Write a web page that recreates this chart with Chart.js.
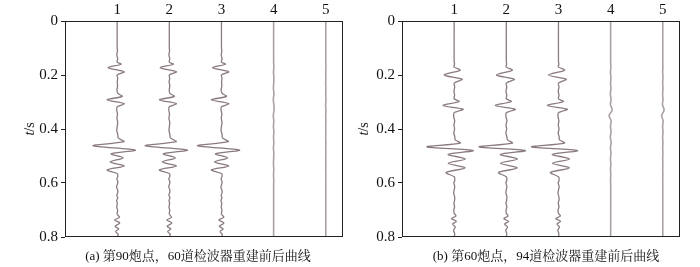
<!DOCTYPE html>
<html><head><meta charset="utf-8">
<script src="https://cdn.jsdelivr.net/npm/chart.js@4/dist/chart.umd.min.js"></script>
<style>
html,body{margin:0;padding:0;background:#fff;}
#wrap{position:relative;width:700px;height:267px;overflow:hidden;}
.cv{position:absolute;top:0;width:350px;height:267px;}
</style></head><body>
<div id="wrap">
<div class="cv" style="left:0"><canvas id="c1" width="350" height="267"></canvas></div>
<div class="cv" style="left:350px"><canvas id="c2" width="350" height="267"></canvas></div>
</div>
<script>
// ---- tick labels ----
const traceLabels = [1, 2, 3, 4, 5];
const timeTicks = [0, 0.2, 0.4, 0.6, 0.8];
const captionA = '(a) 第90炮点，60道检波器重建前后曲线';
const captionB = '(b) 第60炮点，94道检波器重建前后曲线';

// ---- panel (a): time samples (s) and trace amplitudes (in trace-spacing units) ----
const timeA = [0, 0.10, 0.11, 0.125, 0.14, 0.152, 0.160, 0.173, 0.188, 0.200, 0.212, 0.225, 0.240, 0.255, 0.268, 0.279, 0.292, 0.306, 0.318, 0.330, 0.345, 0.360, 0.375, 0.390, 0.405, 0.420, 0.433, 0.447, 0.462, 0.478, 0.492, 0.507, 0.522, 0.537, 0.551, 0.565, 0.575, 0.585, 0.595, 0.605, 0.615, 0.625, 0.635, 0.645, 0.655, 0.665, 0.675, 0.690, 0.700, 0.715, 0.727, 0.737, 0.748, 0.760, 0.770, 0.780, 0.790, 0.800];
const ampA1 = [0, 0, 0.006, -0.006, 0.01, 0, 0.077, -0.173, 0.135, 0, 0.01, 0.002, 0.008, -0.004, 0.012, 0.096, -0.192, 0.135, 0, -0.008, 0.006, -0.004, 0.01, 0.002, -0.008, 0.012, 0.02, 0.13, -0.462, 0.346, -0.115, 0.115, -0.135, 0.135, -0.192, 0, 0.012, -0.006, 0.014, 0.004, -0.012, 0.008, 0.012, -0.006, 0.01, -0.01, 0.004, -0.008, 0.01, 0, 0.045, -0.05, 0.05, -0.04, 0.03, -0.03, 0.02, 0];
const ampA2 = [0, 0, 0.005, -0.008, 0.008, 0, 0.077, -0.173, 0.135, 0, 0.008, -0.004, 0.01, -0.002, 0.01, 0.096, -0.19, 0.135, 0, -0.01, 0.004, -0.008, 0.008, 0.002, -0.006, 0.01, 0.022, 0.13, -0.462, 0.346, -0.115, 0.115, -0.135, 0.135, -0.19, 0, 0.01, -0.01, 0.012, 0.002, -0.01, 0.01, 0.008, -0.008, 0.012, -0.006, 0.006, -0.006, 0.008, 0, 0.042, -0.048, 0.05, -0.042, 0.028, -0.032, 0.02, 0];
const ampA3 = [0, 0, 0.006, -0.004, 0.01, 0, 0.077, -0.17, 0.138, 0, 0.01, 0.002, 0.006, -0.006, 0.012, 0.096, -0.192, 0.138, 0, -0.008, 0.008, -0.004, 0.01, 0, -0.008, 0.012, 0.02, 0.13, -0.46, 0.346, -0.115, 0.118, -0.135, 0.138, -0.192, 0, 0.012, -0.008, 0.012, 0.004, -0.012, 0.006, 0.012, -0.006, 0.008, -0.01, 0.006, -0.006, 0.01, 0, 0.046, -0.05, 0.048, -0.04, 0.032, -0.028, 0.018, 0];
const timeQuiet = [0, 0.15, 0.17, 0.19, 0.21, 0.23, 0.25, 0.27, 0.29, 0.31, 0.33, 0.35, 0.37, 0.39, 0.41, 0.43, 0.45, 0.47, 0.49, 0.51, 0.53, 0.55, 0.57, 0.59, 0.61, 0.80];
const ampA4 = [0, 0, 0.004, -0.003, 0.005, 0.001, -0.004, 0.006, -0.006, 0.004, 0.008, -0.006, 0.003, -0.004, 0.005, -0.002, 0.004, -0.004, 0.003, 0, -0.003, 0.003, -0.002, 0.002, 0, 0];
const ampA5 = [0, 0, 0.002, -0.002, 0.001, -0.002, 0.002, -0.001, 0.003, -0.003, 0.003, -0.002, 0.002, -0.001, 0.001, -0.002, 0.002, -0.001, 0.001, -0.001, 0.001, -0.001, 0.001, 0, 0, 0];

// ---- panel (b) ----
const timeB = [0, 0.150, 0.160, 0.170, 0.182, 0.200, 0.216, 0.230, 0.245, 0.260, 0.275, 0.288, 0.298, 0.313, 0.327, 0.340, 0.355, 0.370, 0.385, 0.400, 0.415, 0.428, 0.440, 0.452, 0.466, 0.480, 0.494, 0.511, 0.527, 0.544, 0.561, 0.577, 0.590, 0.600, 0.612, 0.625, 0.637, 0.650, 0.662, 0.675, 0.688, 0.700, 0.712, 0.722, 0.732, 0.742, 0.752, 0.763, 0.775, 0.788, 0.800];
const ampB1 = [0, 0, 0.008, -0.004, 0.115, -0.192, 0.154, 0, 0.01, -0.004, 0.008, 0, 0.096, -0.212, 0.173, 0, -0.008, 0.01, -0.004, 0.008, -0.006, 0.012, 0.02, 0.115, -0.52, 0.365, -0.115, 0.212, -0.115, 0.212, -0.154, 0, 0.012, -0.006, 0.01, 0.002, -0.01, 0.008, 0.01, -0.004, 0.008, -0.006, 0, 0.035, -0.05, 0.042, -0.032, 0.022, -0.012, 0.01, 0];
const ampB2 = [0, 0, 0.006, -0.006, 0.115, -0.19, 0.154, 0, 0.008, -0.006, 0.008, 0, 0.096, -0.21, 0.173, 0, -0.006, 0.012, -0.006, 0.006, -0.008, 0.01, 0.022, 0.115, -0.52, 0.365, -0.115, 0.212, -0.112, 0.212, -0.15, 0, 0.01, -0.008, 0.012, 0, -0.008, 0.01, 0.008, -0.006, 0.01, -0.004, 0, 0.032, -0.048, 0.044, -0.034, 0.024, -0.01, 0.008, 0];
const ampB3 = [0, 0, 0.008, -0.004, 0.118, -0.192, 0.15, 0, 0.01, -0.004, 0.01, 0, 0.096, -0.212, 0.17, 0, -0.008, 0.008, -0.004, 0.01, -0.006, 0.012, 0.02, 0.115, -0.515, 0.365, -0.118, 0.212, -0.115, 0.21, -0.154, 0, 0.012, -0.006, 0.012, 0.002, -0.01, 0.006, 0.012, -0.004, 0.01, -0.008, 0, 0.036, -0.05, 0.04, -0.03, 0.02, -0.012, 0.008, 0];
const ampB4 = [0, 0, 0.004, -0.004, 0.006, -0.002, 0.006, -0.006, 0.008, -0.004, 0.03, -0.03, 0.01, -0.004, 0.008, -0.006, 0.01, -0.004, 0.006, -0.004, 0.004, -0.003, 0.003, -0.002, 0.002, 0];
const ampB5 = [0, 0, 0.002, -0.002, 0.003, -0.002, 0.003, -0.003, 0.004, -0.006, 0.025, -0.022, 0.006, -0.003, 0.003, -0.003, 0.002, -0.002, 0.002, -0.002, 0.001, -0.001, 0.001, -0.001, 0, 0];

const panelA = {
  traces: [[timeA, ampA1], [timeA, ampA2], [timeA, ampA3], [timeQuiet, ampA4], [timeQuiet, ampA5]],
  caption: captionA
};
const panelB = {
  traces: [[timeB, ampB1], [timeB, ampB2], [timeB, ampB3], [timeQuiet, ampB4], [timeQuiet, ampB5]],
  caption: captionB
};

const serif = "'Liberation Serif','Times New Roman',serif";
const tickFont = {family: serif, size: 15};

function framePlugin(lay, caption) {
  return {
    id: 'frameAndText',
    afterDraw(chart) {
      const ctx = chart.ctx, a = chart.chartArea;
      ctx.save();
      ctx.strokeStyle = '#222';
      ctx.lineWidth = 1;
      ctx.strokeRect(Math.round(a.left) + 0.5, Math.round(a.top) + 0.5,
                     Math.round(a.right - a.left) - 1, Math.round(a.bottom - a.top) - 1);
      ctx.translate(lay.titleX, (a.top + a.bottom) / 2);
      ctx.rotate(-Math.PI / 2);
      ctx.fillStyle = '#111';
      ctx.textBaseline = 'middle';
      ctx.font = 'italic 14px ' + serif;
      const w1 = ctx.measureText('t').width;
      ctx.font = '14px ' + serif;
      const w2 = ctx.measureText('/s').width;
      const x0 = -(w1 + w2) / 2;
      ctx.textAlign = 'left';
      ctx.font = 'italic 14px ' + serif;
      ctx.fillText('t', x0, 0);
      ctx.font = '14px ' + serif;
      ctx.fillText('/s', x0 + w1, 0);
      ctx.restore();
      ctx.save();
      ctx.fillStyle = '#111';
      ctx.font = "13px 'Liberation Serif','Noto Serif CJK SC','Noto Sans CJK SC',serif";
      ctx.textAlign = 'center';
      ctx.textBaseline = 'middle';
      ctx.fillText(caption, lay.capX, 257);
      ctx.restore();
    }
  };
}

function makeChart(id, panel, lay) {
  const datasets = panel.traces.map((tr, i) => ({
    data: tr[0].map((t, k) => ({x: traceLabels[i] + tr[1][k], y: t})),
    showLine: true,
    borderColor: i < 3 ? '#8a7b7e' : '#a9a1a4',
    borderWidth: i < 3 ? 1.3 : 1.6,
    pointRadius: 0,
    tension: 0.3,
    fill: false
  }));
  return new Chart(document.getElementById(id), {
    type: 'scatter',
    data: {datasets},
    options: {
      responsive: false, animation: false, devicePixelRatio: 1,
      layout: {padding: {left: 0, right: lay.padR, top: 0, bottom: 30}},
      plugins: {legend: {display: false}, tooltip: {enabled: false}},
      scales: {
        x: {
          type: 'linear', position: 'top', min: 0, max: 5.33,
          afterBuildTicks: ax => { ax.ticks = traceLabels.map(v => ({value: v})); },
          afterFit: ax => { ax.height = 21; },
          ticks: {font: tickFont, color: '#111', padding: 2, maxRotation: 0, callback: v => String(v)},
          grid: {display: false, drawTicks: false}, border: {display: false}
        },
        y: {
          type: 'linear', reverse: true, min: 0, max: 0.8,
          afterBuildTicks: ax => { ax.ticks = timeTicks.map(v => ({value: v})); },
          afterFit: ax => { ax.width = lay.axisW; },
          ticks: {font: tickFont, color: '#111', padding: 3, callback: v => v === 0 ? '0' : v.toFixed(1)},
          grid: {drawOnChartArea: false, drawTicks: true, tickLength: 4, color: '#222'},
          border: {display: false}
        }
      }
    },
    plugins: [framePlugin(lay, panel.caption)]
  });
}

makeChart('c1', panelA, {axisW: 65, padR: 7, titleX: 30, capX: 198});
makeChart('c2', panelB, {axisW: 52, padR: 20, titleX: 14, capX: 196});
</script>
</body></html>
